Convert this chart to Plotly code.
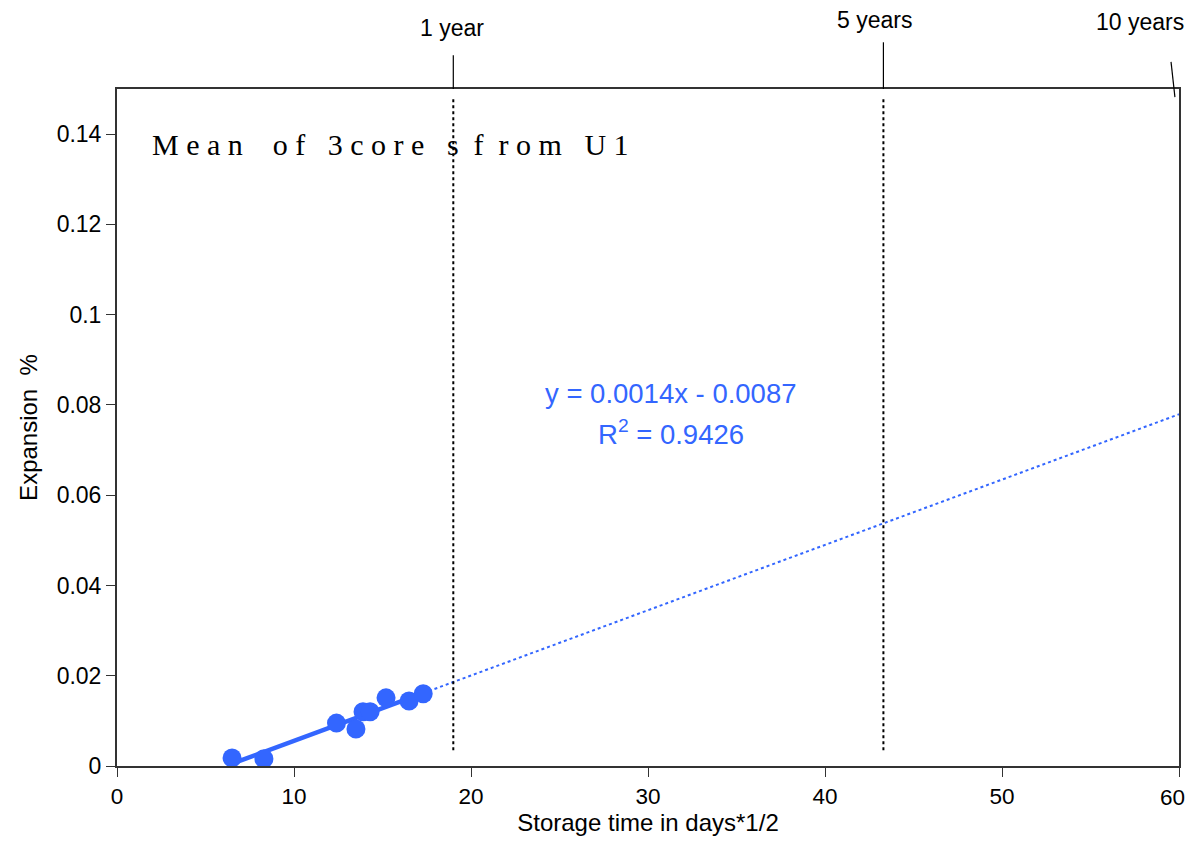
import numpy as np
import plotly.graph_objects as go

# Data
storage_time = [6.5, 8.3, 12.4, 13.5, 13.9, 14.3, 15.2, 16.5, 17.3]
expansion = [0.0018, 0.0016, 0.0095, 0.0082, 0.0120, 0.0120, 0.0151, 0.0144, 0.0160]
x_tickvals = [0, 10, 20, 30, 40, 50, 60]
x_ticktext = ["0", "10", "20", "30", "40", "50", "60"]
y_tickvals = [0, 0.02, 0.04, 0.06, 0.08, 0.1, 0.12, 0.14]
y_ticktext = ["0", "0.02", "0.04", "0.06", "0.08", "0.1", "0.12", "0.14"]
year_marks_x = [19.0, 43.3]
year_labels = ["1 year", "5 years", "10 years"]
ten_year_x = [59.55, 59.77]
eq_text = "y = 0.0014x - 0.0087"
r2_text = "R<sup>2</sup> = 0.9426"
title_text = ("M e a n&nbsp;&nbsp;&nbsp; o f&nbsp;&nbsp; 3 c o r e&nbsp;&nbsp; "
              "s&nbsp; f&nbsp; r o m&nbsp;&nbsp; U 1")

BLUE = "#3366FF"
SANS = "Liberation Sans, Arial"

slope, intercept = np.polyfit(storage_time, expansion, 1)
x_solid = [min(storage_time), max(storage_time)]
x_ext = [max(storage_time), 60]

fig = go.Figure()
fig.add_trace(go.Scatter(x=x_solid, y=[slope * v + intercept for v in x_solid], mode="lines",
                         line=dict(color=BLUE, width=4.5), showlegend=False, hoverinfo="skip"))
fig.add_trace(go.Scatter(x=x_ext, y=[slope * v + intercept for v in x_ext], mode="lines",
                         line=dict(color=BLUE, width=2, dash="dot"), showlegend=False, hoverinfo="skip"))
fig.add_trace(go.Scatter(x=storage_time, y=expansion, mode="markers",
                         marker=dict(color=BLUE, size=19, line=dict(width=0)), showlegend=False))

shapes = []
top_leader = [1.050, 1.069]
for xv, tl in zip(year_marks_x, top_leader):
    shapes.append(dict(type="line", xref="x", yref="y", x0=xv, x1=xv, y0=0.0035, y1=0.148,
                       line=dict(color="black", width=2, dash="dot")))
    shapes.append(dict(type="line", xref="x", yref="paper", x0=xv, x1=xv, y0=1.0, y1=tl,
                       line=dict(color="black", width=1.2)))
shapes.append(dict(type="line", xref="x", yref="paper", x0=ten_year_x[0], x1=ten_year_x[1],
                   y0=1.040, y1=0.988, line=dict(color="black", width=1.2)))

annotations = [
    dict(x=18.9, y=1.090, xref="x", yref="paper", text=year_labels[0], showarrow=False,
         font=dict(size=23, color="black", family=SANS), xanchor="center", yanchor="middle"),
    dict(x=42.8, y=1.102, xref="x", yref="paper", text=year_labels[1], showarrow=False,
         font=dict(size=23, color="black", family=SANS), xanchor="center", yanchor="middle"),
    dict(x=57.8, y=1.099, xref="x", yref="paper", text=year_labels[2], showarrow=False,
         font=dict(size=23, color="black", family=SANS), xanchor="center", yanchor="middle"),
    dict(x=1.86, y=0.1376, xref="x", yref="y", text=title_text, showarrow=False,
         font=dict(size=30, color="black", family="Liberation Serif, Times New Roman"),
         xanchor="left", yanchor="middle"),
    dict(x=31.3, y=0.0826, xref="x", yref="y", text=eq_text, showarrow=False,
         font=dict(size=27.5, color=BLUE, family=SANS), xanchor="center", yanchor="middle"),
    dict(x=31.3, y=0.0738, xref="x", yref="y", text=r2_text, showarrow=False,
         font=dict(size=27.5, color=BLUE, family=SANS), xanchor="center", yanchor="middle"),
    # last x tick label placed inside the page so it is not clipped
    dict(x=1.0075, y=-0.047, xref="paper", yref="paper", text=x_ticktext[-1],
         showarrow=False, font=dict(size=22.5, color="black", family=SANS),
         xanchor="right", yanchor="middle"),
]

fig.update_layout(
    width=1180, height=832,
    margin=dict(l=109, r=9, t=81, b=74, autoexpand=False),
    paper_bgcolor="white", plot_bgcolor="white",
    shapes=shapes, annotations=annotations,
    font=dict(family=SANS, color="black", size=22),
    xaxis=dict(range=[0, 60], tickvals=x_tickvals, ticktext=x_ticktext[:-1] + [""],
               showgrid=False, zeroline=False,
               showline=True, linecolor="#333333", linewidth=2, mirror=True,
               ticks="outside", ticklen=9, tickcolor="#333333", tickfont=dict(size=22.5),
               title=dict(text="Storage time in days*1/2", font=dict(size=24), standoff=6)),
    yaxis=dict(range=[0, 0.15], tickvals=y_tickvals, ticktext=y_ticktext,
               showgrid=False, zeroline=False,
               showline=True, linecolor="#333333", linewidth=2, mirror=True,
               ticks="outside", ticklen=9, tickcolor="#333333", tickfont=dict(size=23),
               title=dict(text="Expansion&nbsp; %", font=dict(size=24), standoff=12)),
)

fig.write_html("out.html")
